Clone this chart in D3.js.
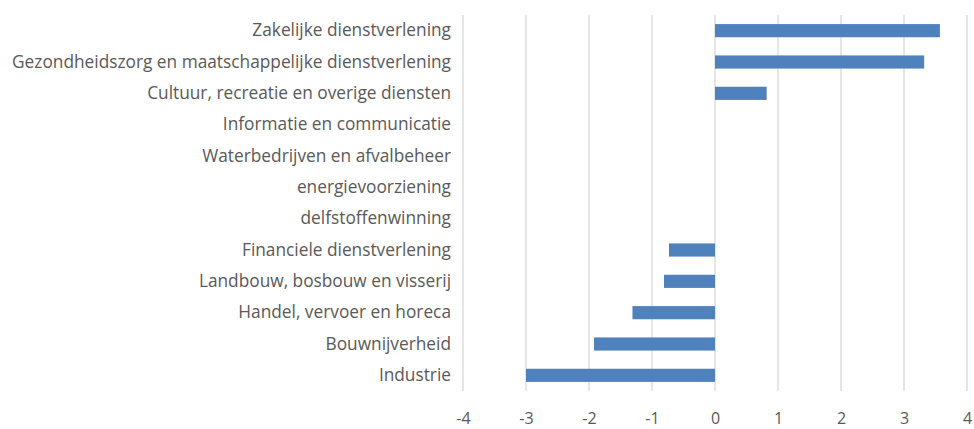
<!DOCTYPE html>
<html><head><meta charset="utf-8">
<script src="https://cdn.jsdelivr.net/npm/d3@7"></script>
<style>body{margin:0;background:#fff}svg{display:block}</style>
</head><body>
<svg id="chart" width="974" height="429"></svg>
<script>
const categories = [
  "Zakelijke dienstverlening",
  "Gezondheidszorg en maatschappelijke dienstverlening",
  "Cultuur, recreatie en overige diensten",
  "Informatie en communicatie",
  "Waterbedrijven en afvalbeheer",
  "energievoorziening",
  "delfstoffenwinning",
  "Financiele dienstverlening",
  "Landbouw, bosbouw en visserij",
  "Handel, vervoer en horeca",
  "Bouwnijverheid",
  "Industrie"
];
const values = [3.57, 3.32, 0.82, 0, 0, 0, 0, -0.73, -0.81, -1.31, -1.92, -3.0];
const xTicks = [-4, -3, -2, -1, 0, 1, 2, 3, 4];

const svg = d3.select("#chart");
const mLeft = 463, mRight = 967, mTop = 15, mBottom = 391;
const x = d3.scaleLinear().domain([-4, 4]).range([mLeft, mRight]);
const y = d3.scaleBand().domain(categories).range([mTop, mBottom]).paddingInner(0.58).paddingOuter(0.29);

const font = "'Open Sans', sans-serif";

svg.append("g").selectAll("line").data(xTicks).join("line")
  .attr("x1", d => x(d)).attr("x2", d => x(d))
  .attr("y1", mTop).attr("y2", mBottom)
  .attr("stroke", "#d9d9d9").attr("stroke-width", 1.3);

svg.append("g").selectAll("rect").data(values).join("rect")
  .attr("x", d => x(Math.min(0, d)))
  .attr("width", d => Math.abs(x(d) - x(0)))
  .attr("y", (d, i) => y(categories[i]))
  .attr("height", y.bandwidth())
  .attr("fill", "#4f81bd");

const yAxis = svg.append("g").attr("transform", `translate(${mLeft},0)`)
  .call(d3.axisLeft(y).tickSize(0).tickPadding(12));
yAxis.select(".domain").remove();
yAxis.selectAll("text").attr("font-family", font).attr("font-size", 17.3).attr("fill", "#595959");

const xAxis = svg.append("g").attr("transform", `translate(0,${mBottom})`)
  .call(d3.axisBottom(x).tickValues(xTicks).tickSize(0).tickPadding(22).tickFormat(d => String(d)));
xAxis.select(".domain").remove();
xAxis.selectAll("text").attr("font-family", font).attr("font-size", 16).attr("fill", "#595959");
</script>
</body></html>
